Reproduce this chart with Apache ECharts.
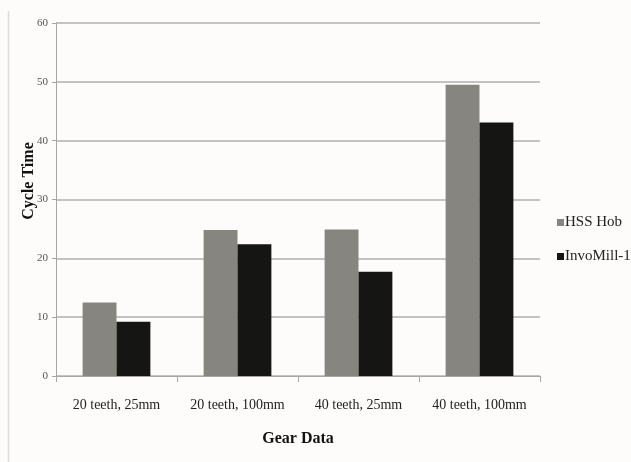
<!DOCTYPE html>
<html>
<head>
<meta charset="utf-8">
<script src="https://cdn.jsdelivr.net/npm/echarts@6/dist/echarts.min.js"></script>
<style>
html,body{margin:0;padding:0;background:#fdfcfa;}
#c{width:631px;height:462px;}
</style>
</head>
<body>
<div id="c"></div>
<script>
const categories = ["20 teeth, 25mm", "20 teeth, 100mm", "40 teeth, 25mm", "40 teeth, 100mm"];
const hssHob = [12.5, 24.8, 24.9, 49.5];
const invoMill = [9.2, 22.4, 17.7, 43.1];
const yTicks = [0, 10, 20, 30, 40, 50, 60];

const chart = echarts.init(document.getElementById('c'));
const font = '"Liberation Serif", "Times New Roman", serif';
chart.setOption({
  backgroundColor: '#fdfcfa',
  animation: false,
  textStyle: { fontFamily: font },
  grid: { left: 56, right: 91, top: 23, bottom: 86, containLabel: false },
  legend: {
    orient: 'vertical',
    left: 552,
    top: 210,
    itemWidth: 7,
    itemHeight: 7,
    itemGap: 19,
    icon: 'rect',
    textStyle: { fontFamily: font, fontSize: 15, color: '#222', padding: [0, 0, 0, -4] },
    data: ['HSS Hob', 'InvoMill-1']
  },
  xAxis: {
    type: 'category',
    data: categories,
    name: 'Gear Data',
    nameLocation: 'middle',
    nameGap: 55,
    nameTextStyle: { fontFamily: font, fontSize: 16, fontWeight: 'bold', color: '#111' },
    axisLine: { lineStyle: { color: '#a9a6a2', width: 1 } },
    axisTick: { show: true, length: 6, lineStyle: { color: '#a9a6a2' } },
    axisLabel: { fontFamily: font, fontSize: 14, color: '#222', margin: 22, interval: 0 }
  },
  yAxis: {
    type: 'value',
    min: yTicks[0],
    max: yTicks[yTicks.length - 1],
    interval: 10,
    axisLine: { show: true, lineStyle: { color: '#a9a6a2' } },
    axisTick: { show: true, length: 4, lineStyle: { color: '#a9a6a2' } },
    axisLabel: { fontFamily: font, fontSize: 11, color: '#555', margin: 8 },
    splitLine: { lineStyle: { color: '#b3afab', width: 1.5 } }
  },
  graphic: [
    { type: 'line', shape: { x1: 8.5, y1: 11, x2: 8.5, y2: 462 }, style: { stroke: '#dedcda', lineWidth: 1.5 } },
    { type: 'text', x: 29, y: 181, rotation: Math.PI / 2,
      style: { text: 'Cycle Time', fontFamily: font, fontSize: 16, fontWeight: 'bold', fill: '#111',
               align: 'center', verticalAlign: 'middle' } }
  ],
  series: [
    { name: 'HSS Hob', type: 'bar', data: hssHob, barGap: '0%', barCategoryGap: '44%',
      itemStyle: { color: '#878580' } },
    { name: 'InvoMill-1', type: 'bar', data: invoMill,
      itemStyle: { color: '#151513' } }
  ]
});
</script>
</body>
</html>
